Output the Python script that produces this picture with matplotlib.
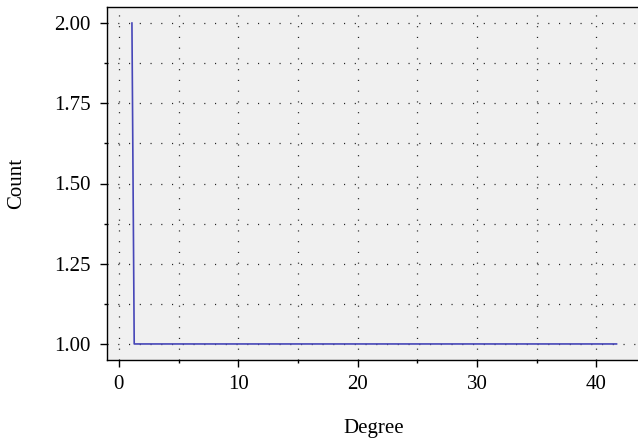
import matplotlib
matplotlib.use("Agg")
import matplotlib.pyplot as plt
from matplotlib.ticker import MultipleLocator
import numpy as np

degree = [1.09, 1.28, 41.7]
count = [2.0, 1.0, 1.0]
x_ticks = [0, 10, 20, 30, 40]
y_ticks = [1.00, 1.25, 1.50, 1.75, 2.00]
y_tick_labels = ["1.00", "1.25", "1.50", "1.75", "2.00"]

plt.rcParams['font.family'] = ['Liberation Serif', 'DejaVu Serif']

W, H = 638, 441
fig = plt.figure(figsize=(W / 100, H / 100), dpi=100)
ax = fig.add_axes([107 / W, (H - 360) / H, (641 - 107) / W, (360 - 7) / H])
ax.set_facecolor('#f0f0f0')

ax.plot(degree, count, color='#4646b8', lw=1.2, zorder=3)

ax.set_xlim(-1.0, 43.75)
ax.set_ylim(0.95, 2.05)
ax.set_xticks(x_ticks)
ax.set_yticks(y_ticks)
ax.set_yticklabels(y_tick_labels)
ax.xaxis.set_minor_locator(MultipleLocator(5))
ax.yaxis.set_minor_locator(MultipleLocator(0.125))

grid_kw = dict(color='#222222', lw=0.9, dashes=(0.9, 7.7))
ax.grid(True, which='both', **grid_kw)
ax.set_axisbelow(True)

ax.tick_params(which='major', direction='out', length=5, width=1, labelsize=15, pad=6, color='black')
ax.tick_params(which='minor', direction='out', length=2.5, width=1, color='black')
ax.tick_params(axis='y', pad=7)

for s in ['left', 'bottom', 'top']:
    ax.spines[s].set_color('black')
    ax.spines[s].set_linewidth(1)
ax.spines['right'].set_visible(False)

ax.set_xlabel('Degree', fontsize=15, labelpad=18)
ax.set_ylabel('Count', fontsize=15, labelpad=20)

fig.savefig('out.png', dpi=100, facecolor='white')
